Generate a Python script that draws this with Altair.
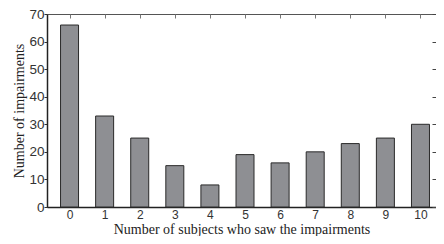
import altair as alt
import pandas as pd

subjects = [0, 1, 2, 3, 4, 5, 6, 7, 8, 9, 10]
impairments = [66, 33, 25, 15, 8, 19, 16, 20, 23, 25, 30]
y_ticks = [0, 10, 20, 30, 40, 50, 60, 70]

df = pd.DataFrame({"subjects": subjects, "impairments": impairments})

W, H = 389, 193
x_scale = alt.Scale(domain=[-0.5, 10.3], nice=False, zero=False)
y_scale = alt.Scale(domain=[0, 70], nice=False)

base = alt.Chart(df)

bars = base.mark_bar(size=18, color="#8e8f93", stroke="#2a2a2a", strokeWidth=1).encode(
    x=alt.X("subjects:Q", scale=x_scale,
            axis=alt.Axis(title="Number of subjects who saw the impairments",
                          values=subjects, format="d", grid=False,
                          labelAngle=0, ticks=False, domain=True,
                          domainColor="#222", domainWidth=1.5,
                          labelFont="Liberation Sans", labelFontSize=12,
                          labelColor="#333", labelPadding=2,
                          titleFont="Liberation Serif", titleFontSize=14,
                          titleFontWeight="normal", titleColor="#222",
                          titleY=26.5, titleBaseline="alphabetic")),
    y=alt.Y("impairments:Q", scale=y_scale,
            axis=alt.Axis(title="Number of impairments", values=y_ticks,
                          ticks=True, tickSize=3, tickColor="#333",
                          domain=True, domainColor="#222",
                          domainWidth=1.5, grid=False,
                          labelFont="Liberation Sans", labelFontSize=13.5,
                          labelColor="#333", labelPadding=0,
                          titleFont="Liberation Serif", titleFontSize=14,
                          titleFontWeight="normal", titleColor="#222",
                          titlePadding=2)),
)

ticks_tr = base.mark_bar(size=18, opacity=0).encode(
    x=alt.X("subjects:Q", scale=x_scale,
            axis=alt.Axis(orient="bottom", offset=-H, labels=False, domain=False,
                          title=None, values=subjects, grid=False,
                          ticks=True, tickSize=4, tickColor="#777", zindex=1)),
    y=alt.Y("impairments:Q", scale=y_scale,
            axis=alt.Axis(orient="left", offset=-W, labels=False, domain=False,
                          title=None, values=y_ticks, ticks=True, tickSize=4,
                          tickColor="#444", grid=False, zindex=1)),
)

chart = alt.layer(bars, ticks_tr).resolve_axis(
    x="independent", y="independent"
).properties(
    width=W, height=H,
    autosize=alt.AutoSizeParams(type="none"),
    padding={"left": 39, "top": 6, "right": 0, "bottom": 29},
    background="white",
).configure_view(stroke="#555", strokeWidth=1)

chart.save("out.html", embed_options={"renderer": "svg", "actions": False})
